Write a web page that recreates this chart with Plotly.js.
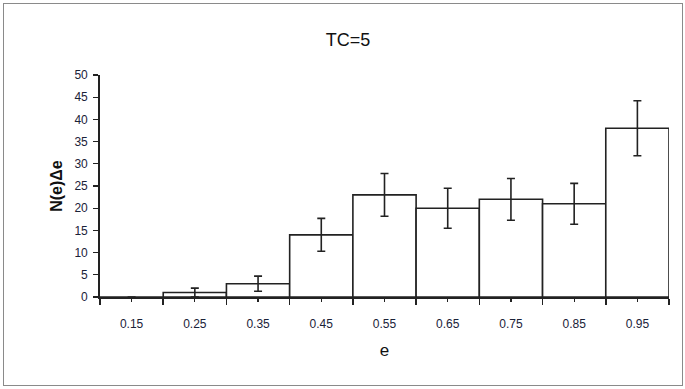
<!DOCTYPE html>
<html><head><meta charset="utf-8">
<script src="https://cdn.plot.ly/plotly-3.0.1.min.js"></script>
<style>
body{margin:0;padding:0;background:#fff;}
#wrap{position:relative;width:685px;height:389px;}
#chart{width:685px;height:389px;}
#frame{position:absolute;left:3px;top:3px;width:678px;height:381px;border:1px solid #8a8a8a;pointer-events:none;}
</style>
</head><body>
<div id="wrap"><div id="chart"></div><div id="frame"></div></div>
<script>
const eCenters = [0.15, 0.25, 0.35, 0.45, 0.55, 0.65, 0.75, 0.85, 0.95];
const eLabels = ["0.15", "0.25", "0.35", "0.45", "0.55", "0.65", "0.75", "0.85", "0.95"];
const counts = [0, 1, 3, 14, 23, 20, 22, 21, 38];
const errors = [0, 1, 1.7, 3.7, 4.8, 4.5, 4.7, 4.6, 6.2];
const binWidth = 0.1;
const yTicks = [0, 5, 10, 15, 20, 25, 30, 35, 40, 45, 50];

const trace = {
  type: 'bar',
  x: eCenters,
  y: counts,
  width: eCenters.map(() => binWidth),
  marker: {color: '#ffffff', line: {color: '#222222', width: 1.6}},
  error_y: {type: 'data', array: errors, visible: true, color: '#222222', thickness: 1.6, width: 4},
  hoverinfo: 'none'
};

const fontFam = '"Liberation Sans", Arial, sans-serif';
const layout = {
  width: 685, height: 389,
  margin: {l: 100, r: 16, t: 75, b: 92},
  paper_bgcolor: '#ffffff', plot_bgcolor: '#ffffff',
  showlegend: false,
  bargap: 0,
  title: {text: 'TC=5', font: {family: fontFam, size: 18, color: '#111'}, x: 0.508, xref: 'container', xanchor: 'center', y: 0.897, yref: 'container', yanchor: 'middle'},
  xaxis: {
    range: [0.1, 1.0],
    tickvals: eCenters, ticktext: eLabels,
    ticks: 'outside', ticklen: 3, tickwidth: 1.2, tickcolor: '#222',
    minor: {tick0: 0.1, dtick: binWidth, ticks: 'outside', ticklen: 6, tickwidth: 1.6, tickcolor: '#222', showgrid: false},
    showline: true, linecolor: '#222', linewidth: 1.8,
    showgrid: false, zeroline: false,
    ticklabelstandoff: 12,
    tickfont: {family: fontFam, size: 12, color: '#1a2238'},
    title: {text: 'e', font: {family: fontFam, size: 17, color: '#111'}, standoff: 14}
  },
  yaxis: {
    range: [0, 50],
    tickvals: yTicks,
    ticks: 'outside', ticklen: 5, tickwidth: 1.2, tickcolor: '#222',
    showline: true, linecolor: '#222', linewidth: 1.8,
    showgrid: false, zeroline: false,
    ticklabelstandoff: 3,
    tickfont: {family: fontFam, size: 12, color: '#1a2238'},
    title: {text: 'N(e)Δe', font: {family: fontFam, size: 16, color: '#111', weight: 'bold'}, standoff: 8}
  }
};

Plotly.newPlot('chart', [trace], layout, {staticPlot: true, displayModeBar: false});
</script>
</body></html>
